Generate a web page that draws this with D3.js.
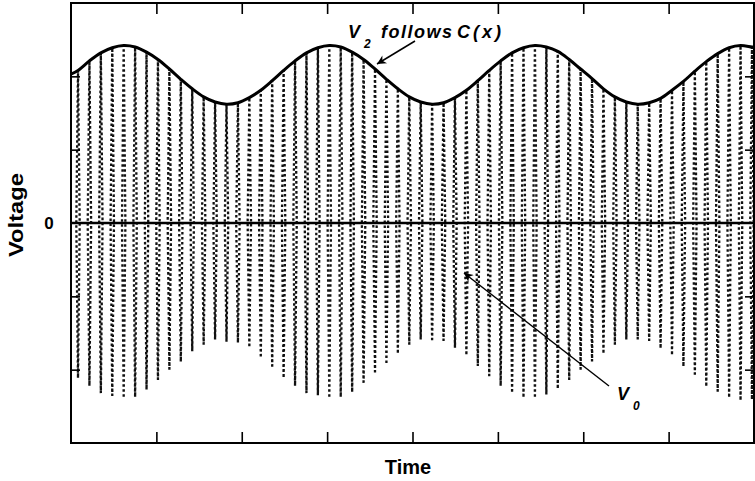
<!DOCTYPE html>
<html><head><meta charset="utf-8">
<script src="https://cdn.jsdelivr.net/npm/d3@7/dist/d3.min.js"></script>
<style>body{margin:0;background:#fff} svg{display:block}</style>
</head><body>
<svg id="c" width="755" height="481"></svg>
<script>
// ---- data ----
const xTicks = [1, 2, 3, 4, 5, 6, 7];
const yTicks = [-2, -1, 1, 2];
const zeroLabel = ["0"];
const colStart = 0.082, colStep = 0.1338;   // time of first carrier column, spacing
// top of each carrier column (follows C(x))
const upper = [2.08, 2.21, 2.32, 2.39, 2.42, 2.40, 2.33, 2.23, 2.10, 1.96,
               1.83, 1.72, 1.65, 1.62, 1.64, 1.71, 1.81, 1.94, 2.08, 2.21,
               2.32, 2.39, 2.42, 2.40, 2.33, 2.23, 2.10, 1.96, 1.83, 1.72,
               1.65, 1.62, 1.64, 1.71, 1.81, 1.94, 2.08, 2.21, 2.32, 2.39,
               2.42, 2.40, 2.34, 2.23, 2.10, 1.97, 1.83, 1.72, 1.65, 1.62,
               1.64, 1.70, 1.81, 1.93, 2.07, 2.20, 2.31, 2.39, 2.42, 2.40];
// bottom of each carrier column
const lower = [-2.11, -2.22, -2.32, -2.36, -2.37, -2.37, -2.27, -2.14, -2.00, -1.89,
               -1.75, -1.66, -1.59, -1.62, -1.63, -1.68, -1.82, -1.96, -2.10, -2.22,
               -2.32, -2.35, -2.37, -2.37, -2.30, -2.18, -2.04, -1.91, -1.77, -1.66,
               -1.59, -1.60, -1.61, -1.70, -1.79, -1.95, -2.09, -2.22, -2.30, -2.37,
               -2.37, -2.34, -2.25, -2.14, -2.00, -1.89, -1.77, -1.66, -1.59, -1.59,
               -1.61, -1.70, -1.79, -1.95, -2.07, -2.22, -2.30, -2.37, -2.41, -2.40];
const envStart = 2.03, envEnd = 2.40;   // C(x) at the left and right edges

const colTime = upper.map((_, i) => colStart + i * colStep);

// ---- drawing ----
const FONT = "'Liberation Sans', Arial, Helvetica, sans-serif";
const svg = d3.select("#c");
const x = d3.scaleLinear().domain([0, 8]).range([71, 754]);
const y = d3.scaleLinear().domain([-3, 3]).range([443, 3]);

const defs = svg.append("defs");
defs.append("marker").attr("id", "ah").attr("viewBox", "0 0 10 10")
  .attr("refX", 10).attr("refY", 5).attr("markerWidth", 12).attr("markerHeight", 9)
  .attr("markerUnits", "userSpaceOnUse").attr("orient", "auto")
  .append("path").attr("d", "M0,0 L10,5 L0,10 L3,5 Z").attr("fill", "#000");

// carrier columns (dotted)
const lineGen = d3.line();
const cols = svg.append("g");
colTime.forEach((t, i) => {
  const cx = x(t);
  const pts = [[cx, y(lower[i])], [cx - 1.7, y(0)], [cx, y(upper[i])], [cx + 1.7, y(0)], [cx, y(lower[i])]];
  cols.append("path").attr("d", lineGen(pts))
    .attr("fill", "none").attr("stroke", "#111").attr("stroke-width", 2.3)
    .attr("stroke-dasharray", "2.6,2.4");
});

// zero line
svg.append("line").attr("x1", x(0)).attr("x2", x(8)).attr("y1", y(0)).attr("y2", y(0))
  .attr("stroke", "#000").attr("stroke-width", 2.5);

// envelope C(x)
const envPts = [[0, envStart]].concat(colTime.map((t, i) => [t, upper[i]])).concat([[8, envEnd]]);
svg.append("path")
  .attr("d", d3.line().x(d => x(d[0])).y(d => y(d[1])).curve(d3.curveCatmullRom)(envPts))
  .attr("fill", "none").attr("stroke", "#000").attr("stroke-width", 3);

// axes (inward ticks, no labels)
function styleAxis(g) {
  g.select(".domain").remove();
  g.selectAll(".tick line").attr("stroke", "#000").attr("stroke-width", 1.6);
  g.selectAll(".tick text").remove();
}
svg.append("g").attr("transform", `translate(0,${y(-3)})`)
  .call(d3.axisBottom(x).tickValues(xTicks).tickSize(-11).tickFormat("")).call(styleAxis);
svg.append("g").attr("transform", `translate(0,${y(3)})`)
  .call(d3.axisTop(x).tickValues(xTicks).tickSize(-11).tickFormat("")).call(styleAxis);
svg.append("g").attr("transform", `translate(${x(0)},0)`)
  .call(d3.axisLeft(y).tickValues(yTicks).tickSize(-9).tickFormat("")).call(styleAxis);
svg.append("g").attr("transform", `translate(${x(8)},0)`)
  .call(d3.axisRight(y).tickValues(yTicks).tickSize(-9).tickFormat("")).call(styleAxis);

// frame
svg.append("rect").attr("x", x(0)).attr("y", y(3)).attr("width", x(8) - x(0)).attr("height", y(-3) - y(3))
  .attr("fill", "none").attr("stroke", "#000").attr("stroke-width", 2);

// labels
svg.append("text").attr("x", 49).attr("y", y(0) + 6).attr("text-anchor", "middle")
  .attr("font-family", FONT).attr("font-weight", "bold").attr("font-size", 17).text(zeroLabel[0]);
svg.append("text").attr("transform", "translate(23,215) rotate(-90)").attr("text-anchor", "middle")
  .attr("font-family", FONT).attr("font-weight", "bold").attr("font-size", 21)
  .attr("textLength", 84).attr("lengthAdjust", "spacingAndGlyphs").text("Voltage");
svg.append("text").attr("x", 408).attr("y", 474).attr("text-anchor", "middle")
  .attr("font-family", FONT).attr("font-weight", "bold").attr("font-size", 20).text("Time");

// annotation V2 follows C(x)
const ann = svg.append("g").attr("font-family", FONT).attr("font-weight", "bold").attr("font-style", "italic");
ann.append("text").attr("x", 348).attr("y", 38).attr("font-size", 18).text("V");
ann.append("text").attr("x", 364).attr("y", 48).attr("font-size", 12).text("2");
ann.append("text").attr("x", 381).attr("y", 38).attr("font-size", 18)
  .attr("letter-spacing", 1.5).text("follows");
ann.append("text").attr("x", 457).attr("y", 38).attr("font-size", 18)
  .attr("letter-spacing", 3).text("C(x)");
svg.append("line").attr("x1", 415).attr("y1", 41).attr("x2", 377).attr("y2", 64)
  .attr("stroke", "#000").attr("stroke-width", 1.5).attr("marker-end", "url(#ah)");

// annotation V0
ann.append("text").attr("x", 617).attr("y", 400).attr("font-size", 18).text("V");
ann.append("text").attr("x", 633).attr("y", 410).attr("font-size", 12).text("0");
svg.append("line").attr("x1", 609).attr("y1", 386).attr("x2", 464).attr("y2", 273)
  .attr("stroke", "#000").attr("stroke-width", 1.4).attr("marker-end", "url(#ah)");
</script>
</body></html>
